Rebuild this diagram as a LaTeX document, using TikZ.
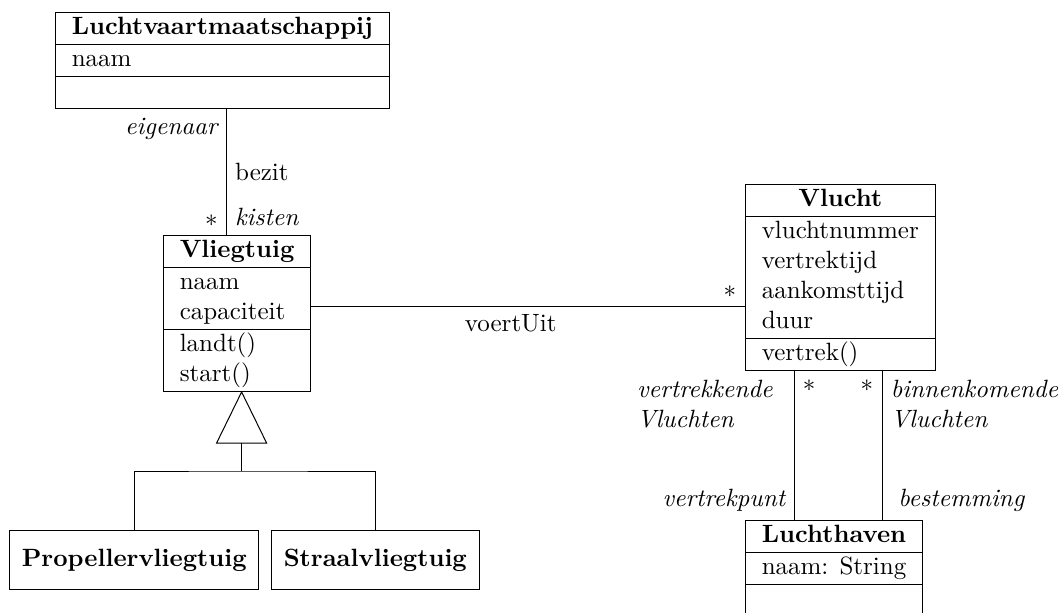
\documentclass[tikz,border=0pt]{standalone}
\usepackage{mathtools}
\usepackage{tikz}
\usetikzlibrary{shapes.multipart}

\begin{document}
\begin{tikzpicture}[x=0.4pt,y=-0.4pt,
        klasse/.style={draw, rectangle split, rectangle split parts=3,
            rectangle split part align={center,left,left},
            inner xsep=6.5pt, inner ysep=0.2pt, anchor=north west},
        subklasse/.style={draw, font=\bfseries, inner xsep=4.9pt,
            minimum height=23.6pt, anchor=north west},
        rol/.style={font=\itshape}]
        \useasboundingbox (0,0) rectangle (1063,612);
        \node [klasse] (lvm) at (55,12) {\textbf{Luchtvaartmaatschappij}\strut
            \nodepart{second}\begin{tabular}{@{}l@{}}naam\end{tabular}
            \nodepart{third}\strut};
        \node [klasse] (vlieg) at (163,235) {\textbf{Vliegtuig}\strut
            \nodepart{second}\begin{tabular}{@{}l@{}}naam\\capaciteit\end{tabular}
            \nodepart{third}\begin{tabular}{@{}l@{}}landt()\\start()\end{tabular}};
        \node [klasse] (vlucht) at (745,184) {\textbf{Vlucht}\strut
            \nodepart{second}\begin{tabular}{@{}l@{}}vluchtnummer\\vertrektijd\\aankomsttijd\\duur\end{tabular}
            \nodepart{third}\begin{tabular}{@{}l@{}}vertrek()\end{tabular}};
        \node [klasse] (lh) at (745,520) {\textbf{Luchthaven}\strut
            \nodepart{second}\begin{tabular}{@{}l@{}}naam: String\end{tabular}
            \nodepart{third}\strut};
        \node [subklasse] (prop) at (9,530) {Propellervliegtuig};
        \node [subklasse] (straal) at (271,530) {Straalvliegtuig};
        \coordinate (top) at ([xshift=1.8pt]vlieg.south);
        \draw (top) -- ++(-25,51) -- ++(50,0) -- cycle;
        \draw (top) ++(0,51) -- ++(0,28) coordinate (tak);
        \draw (prop.north) |- (tak) -| (straal.north);
        \draw ([xshift=1.6pt]lvm.south) -- ([xshift=1.6pt]lvm.south |- vlieg.north)
            node [pos=0, anchor=north east, rol] {eigenaar}
            node [midway, right] {bezit}
            node [pos=1, anchor=south east] {$*$}
            node [pos=1, anchor=south west, rol] {kisten};
        \draw ([yshift=-28.4pt]vlieg.north east) -- ([yshift=-28.4pt]vlieg.north east -| vlucht.west)
            node [pos=0.46, below] {voertUit}
            node [pos=1, anchor=south east] {$*$};
        \draw ([xshift=19.6pt]vlucht.south west) -- ([xshift=19.6pt]vlucht.south west |- lh.north)
            node [pos=0, anchor=north east, rol, align=left, xshift=-5pt] {vertrekkende\\Vluchten}
            node [pos=0, anchor=north west] {$*$}
            node [pos=1, anchor=south east, rol] {vertrekpunt};
        \draw ([xshift=54.8pt]vlucht.south west) -- ([xshift=54.8pt]vlucht.south west |- lh.north)
            node [pos=0, anchor=north east] {$*$}
            node [pos=0, anchor=north west, rol, align=left] {binnenkomende\\Vluchten}
            node [pos=1, anchor=south west, rol, xshift=3pt] {bestemming};
    \end{tikzpicture}
\end{document}
